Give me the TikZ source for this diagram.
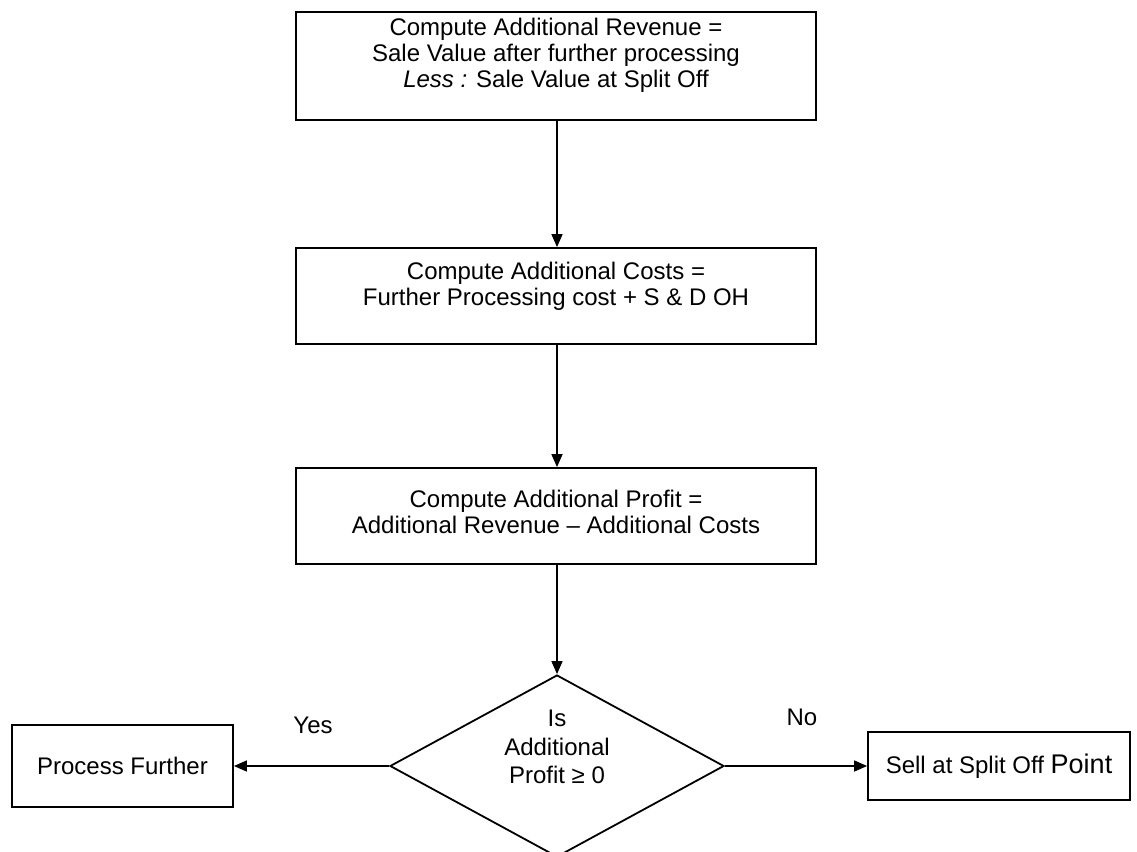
\documentclass[tikz,border=0pt]{standalone}
\usepackage{fontspec}
\setmainfont{Liberation Sans}
\usetikzlibrary{arrows.meta,shapes.geometric}
\tikzset{
  box/.style={draw, line width=1.8pt, rectangle, inner sep=0pt},
  txt/.style={align=center, inner sep=0pt, font=\fontsize{24}{26}\selectfont},
  dtxt/.style={align=center, inner sep=0pt, font=\fontsize{24}{28.5}\selectfont},
  conn/.style={line width=1.5pt, -{Triangle[length=13pt,width=11pt]}},
  decision/.style={draw, line width=1.8pt, diamond, inner sep=0pt, minimum width=334pt, minimum height=182pt}
}
\begin{document}
\begin{tikzpicture}[x=1pt,y=-1pt]
\clip (0,0) rectangle (1137,851);
\fill[white] (0,0) rectangle (1137,851);
% boxes
\node[box, minimum width=520pt, minimum height=108pt] (b1) at (556,66) {};
\node[txt] (t1) at (556,55) {Compute Additional Revenue =\\Sale Value after further processing\\\textit{Less :} Sale Value at Split Off};
\node[box, minimum width=520pt, minimum height=96pt] (b2) at (556,296) {};
\node[txt] (t2) at (556,286) {Compute Additional Costs =\\Further Processing cost + S \& D OH};
\node[box, minimum width=520pt, minimum height=96pt] (b3) at (556,516) {};
\node[txt] (t3) at (556,512) {Compute Additional Profit =\\Additional Revenue – Additional Costs};
\node[decision] (d) at (557,766) {};
\node[dtxt] (td) at (557,747) {Is\\Additional\\Profit ≥ 0};
\node[box, txt, draw, line width=1.8pt, minimum width=221pt, minimum height=82pt] (pf) at (122.5,766) {Process Further};
\node[box, txt, draw, line width=1.8pt, minimum width=262pt, minimum height=68pt] (ss) at (999,766) {Sell at Split Off {\fontsize{27}{30}\selectfont Point}};
% labels
\node[txt] (yes) at (313,725) {Yes};
\node[txt] (no) at (802,717) {No};
% connectors
\draw[conn] (b1.south -| d.north) -- (b2.north -| d.north);
\draw[conn] (b2.south -| d.north) -- (b3.north -| d.north);
\draw[conn] (b3.south -| d.north) -- (d.north);
\draw[conn] (d.west) -- (pf.east);
\draw[conn] (d.east) -- (ss.west);
\end{tikzpicture}
\end{document}
